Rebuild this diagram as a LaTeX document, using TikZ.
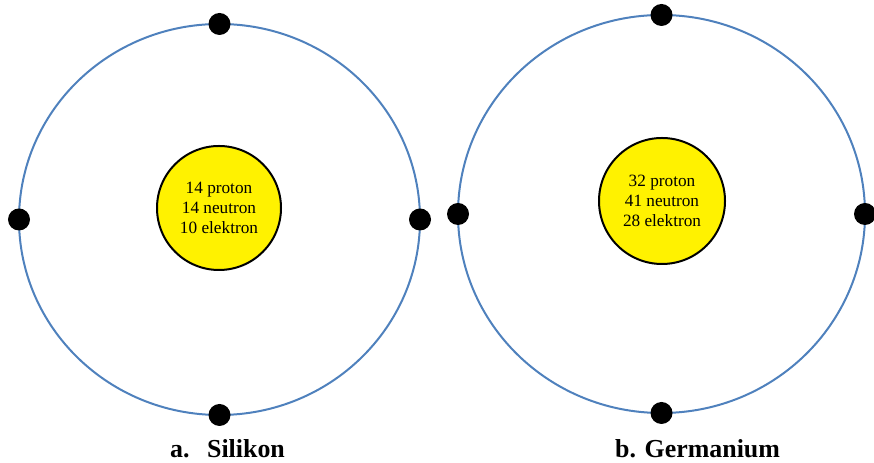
\documentclass[tikz,border=0pt]{standalone}
\usepackage{fontspec}
\setmainfont{Liberation Serif}
\usetikzlibrary{calc}
\definecolor{orbitblue}{HTML}{4F81BD}
\begin{document}
\begin{tikzpicture}[x=1bp,y=1bp,
  orbit/.style={draw=orbitblue, line width=2bp},
  nucleus/.style={circle, draw=black, line width=2bp, fill=yellow,
    minimum size=124bp, inner sep=0pt, align=center,
    font=\fontsize{17.3}{20}\selectfont},
  electron/.style={circle, fill=black, minimum size=22bp, inner sep=0pt},
  caption/.style={font=\bfseries\fontsize{26}{30}\selectfont, anchor=base west, inner sep=0pt}]
\useasboundingbox (0,0) rectangle (874,463);

% Silicon atom
\coordinate (si) at (219.5,243.5);
\draw[orbit] (si) ellipse [x radius=200.5, y radius=195.5];
\node[nucleus] (siN) at (219,255) {14 proton\\14 neutron\\10 elektron};
\node[electron] (siT) at ($(si)+(0,195.5)$) {};
\node[electron] (siB) at ($(si)+(0,-195.5)$) {};
\node[electron] (siL) at ($(si)+(-200.5,0)$) {};
\node[electron] (siR) at ($(si)+(200.5,0)$) {};
\node[caption] (siC) at (170,5) {a.\hspace{17.5bp}Silikon};

% Germanium atom
\coordinate (ge) at (661.5,249);
\draw[orbit] (ge) ellipse [x radius=203.5, y radius=199];
\node[nucleus, minimum size=126bp] (geN) at (662,262) {32 proton\\41 neutron\\28 elektron};
\node[electron] (geT) at ($(ge)+(0,199)$) {};
\node[electron] (geB) at ($(ge)+(0,-199)$) {};
\node[electron] (geL) at ($(ge)+(-203.5,0)$) {};
\node[electron] (geR) at ($(ge)+(203.5,0)$) {};
\node[caption] (geC) at (615,5) {b. Germanium};
\end{tikzpicture}
\end{document}
